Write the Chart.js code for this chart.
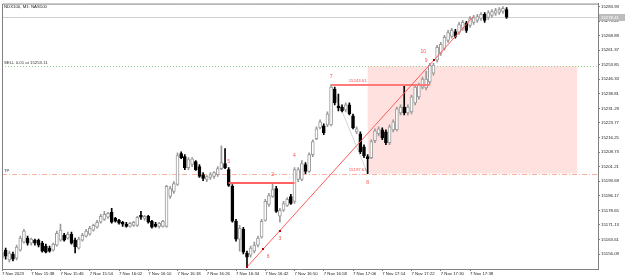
<!DOCTYPE html>
<html><head><meta charset="utf-8">
<script src="https://cdn.jsdelivr.net/npm/chart.js@4/dist/chart.umd.min.js"></script>
<style>html,body{margin:0;padding:0;background:#fff;}#wrap{width:625px;height:279px;position:relative;}</style>
</head><body><div id="wrap"><canvas id="c" width="625" height="279"></canvas></div>
<script>
// ---- data (NDX100 M1, 7 Nov 2023 from 15:30) ----
const open = [
15154.0,15158.1,15153.0,15156.1,15154.0,15158.1,15162.2,15164.3,15161.7,15163.3,
15163.3,15161.7,15160.2,15159.1,15158.1,15160.7,15163.3,15165.8,15164.3,15166.3,
15163.3,15159.1,15163.3,15165.3,15166.3,15168.4,15169.9,15172.5,15174.0,15175.1,
15177.6,15174.5,15173.5,15172.5,15171.5,15170.4,15170.9,15170.9,15176.1,15174.5,
15175.6,15173.0,15171.5,15170.4,15170.4,15170.4,15185.8,15188.4,15192.0,15207.9,
15206.4,15200.7,15202.3,15203.8,15201.2,15197.1,15194.6,15195.6,15196.1,15197.1,
15200.2,15202.8,15199.7,15191.0,15173.0,15163.8,15168.9,15156.6,15155.5,15157.6,
15160.7,15164.8,15173.5,15181.7,15185.8,15189.9,15175.6,15178.7,15181.2,15185.8,
15183.3,15194.6,15194.6,15202.3,15198.7,15207.4,15215.6,15221.2,15222.3,15222.8,
15222.8,15241.3,15232.5,15232.0,15230.5,15233.1,15227.4,15219.2,15218.2,15211.5,
15206.4,15205.9,15214.6,15218.2,15220.2,15219.2,15213.6,15220.2,15220.2,15229.0,
15232.0,15229.0,15229.5,15234.1,15237.2,15242.3,15241.8,15244.9,15249.5,15256.2,
15259.8,15262.3,15266.4,15268.5,15271.0,15270.5,15272.6,15275.2,15274.1,15275.7,
15276.7,15277.7,15279.8,15278.2,15279.3,15280.3,15280.8,15281.3,15282.3];
const high = [
15159.7,15159.1,15157.6,15157.1,15160.7,15165.3,15168.9,15165.3,15164.3,15163.8,
15163.8,15162.7,15161.2,15160.2,15161.7,15167.9,15171.5,15166.8,15167.4,15167.4,
15164.3,15164.8,15166.8,15168.9,15170.4,15171.5,15173.5,15176.6,15178.1,15177.6,
15179.7,15175.1,15174.0,15173.0,15172.5,15172.5,15173.0,15175.6,15178.1,15176.1,
15176.1,15173.5,15172.5,15172.5,15173.5,15191.5,15191.0,15193.5,15208.4,15208.9,
15207.4,15205.9,15205.9,15204.3,15202.3,15198.2,15196.6,15198.2,15198.7,15201.2,
15212.0,15210.5,15200.7,15192.0,15174.0,15170.9,15169.9,15157.6,15160.2,15162.2,
15165.3,15174.0,15184.3,15187.4,15192.5,15191.0,15179.7,15183.3,15185.3,15186.9,
15200.7,15200.7,15204.3,15203.3,15208.4,15215.1,15221.8,15225.4,15223.3,15229.5,
15243.61,15242.3,15238.7,15233.1,15234.1,15234.1,15228.4,15221.8,15219.2,15212.5,
15207.4,15215.1,15220.7,15221.8,15221.2,15220.2,15222.8,15225.4,15232.0,15233.1,
15242.8,15233.1,15238.2,15243.3,15244.4,15247.4,15250.5,15254.6,15254.6,15263.9,
15265.4,15269.0,15271.6,15272.6,15272.1,15275.7,15276.7,15276.2,15278.7,15279.3,
15279.8,15280.8,15280.8,15281.8,15282.3,15282.9,15283.4,15283.9,15283.4];
const low = [
15152.0,15153.5,15152.0,15152.5,15153.0,15157.6,15161.7,15160.7,15160.7,15160.7,
15159.7,15157.1,15156.6,15157.1,15157.6,15160.2,15162.7,15162.7,15163.8,15161.2,
15156.6,15158.6,15162.7,15164.8,15165.8,15167.9,15169.4,15172.0,15173.5,15174.5,
15172.0,15172.5,15171.5,15170.4,15169.9,15169.9,15170.4,15170.4,15174.0,15173.5,
15172.0,15169.4,15169.9,15169.4,15169.9,15169.9,15184.8,15187.4,15191.5,15205.3,
15199.7,15199.7,15201.2,15199.2,15195.6,15194.0,15193.5,15194.6,15195.1,15196.1,
15199.7,15200.2,15191.0,15172.5,15162.7,15157.6,15156.1,15149.4,15154.5,15156.6,
15159.7,15164.3,15173.0,15180.7,15185.3,15177.6,15172.5,15178.1,15180.7,15181.7,
15182.2,15193.5,15194.0,15197.6,15198.2,15206.4,15215.1,15220.7,15217.7,15221.8,
15222.3,15233.1,15230.0,15229.5,15229.5,15227.9,15220.7,15218.2,15207.9,15205.9,
15197.61,15205.3,15213.6,15217.1,15215.1,15212.5,15212.5,15219.2,15219.7,15227.9,
15227.9,15227.9,15228.4,15233.1,15236.1,15241.3,15240.8,15243.8,15248.5,15255.1,
15258.7,15261.3,15265.4,15267.5,15267.5,15269.5,15271.6,15270.5,15273.1,15274.6,
15275.7,15276.7,15275.7,15277.2,15278.2,15279.3,15279.8,15280.3,15277.7];
const close = [
15157.1,15155.0,15156.6,15153.5,15159.7,15164.3,15167.9,15161.7,15163.8,15161.7,
15160.7,15157.6,15157.1,15157.6,15161.2,15166.8,15168.4,15163.3,15166.3,15161.7,
15159.7,15163.8,15165.8,15167.9,15169.4,15170.9,15172.5,15175.6,15176.6,15177.1,
15172.5,15173.0,15172.0,15171.5,15170.4,15172.0,15172.5,15175.1,15175.1,15175.6,
15172.5,15169.9,15170.4,15172.0,15173.0,15191.0,15189.9,15192.5,15206.9,15205.9,
15200.7,15204.8,15205.3,15199.7,15196.1,15195.1,15196.1,15197.1,15198.2,15200.2,
15203.3,15200.7,15191.5,15173.0,15163.8,15169.4,15157.1,15154.5,15159.1,15160.7,
15164.3,15173.0,15183.3,15186.3,15189.4,15178.1,15178.7,15182.2,15184.3,15182.2,
15199.7,15199.7,15202.8,15198.7,15207.4,15214.1,15220.7,15224.3,15218.7,15228.4,
15242.3,15234.1,15231.5,15230.0,15233.1,15228.4,15221.2,15220.7,15208.9,15206.9,
15205.3,15214.1,15219.7,15220.7,15216.1,15213.6,15221.8,15224.3,15231.0,15232.0,
15229.0,15232.0,15237.2,15242.3,15243.3,15246.4,15246.4,15253.6,15253.6,15262.8,
15264.4,15268.0,15270.5,15271.6,15268.5,15274.6,15275.7,15271.6,15277.7,15278.2,
15278.7,15279.8,15276.7,15280.8,15281.3,15281.8,15282.3,15282.9,15278.41];

// one-minute slots from 15:30 (including empty chart-shift area)
const categories = [];
for (let m = 0; m < 164; m++) { const t = 930 + m; categories.push(String(Math.floor(t/60)).padStart(2,'0') + ':' + String(t%60).padStart(2,'0')); }
const tickIndex  = [0,8,16,24,32,40,48,56,64,72,80,88,96,104,112,120,128];
const tickLabels = ['7 Nov 2023','7 Nov 15:38','7 Nov 15:46','7 Nov 15:54','7 Nov 16:02','7 Nov 16:10','7 Nov 16:18','7 Nov 16:26','7 Nov 16:34','7 Nov 16:42','7 Nov 16:50','7 Nov 16:58','7 Nov 17:06','7 Nov 17:14','7 Nov 17:22','7 Nov 17:30','7 Nov 17:38'];
const yTicks = [15156.09,15163.61,15171.13,15178.65,15186.17,15193.69,15201.21,15208.73,15216.25,15223.77,15231.29,15238.81,15246.33,15253.85,15261.37,15268.89,15276.41,15283.93];
const yRange = [15148.36, 15285.41];

// trade / analysis objects
const titleText = 'NDX100, M1: NAS100';
const sellPrice = 15253.11, tpPrice = 15197.61, bidPrice = 15278.41;
const sellText = 'SELL 0.01 at 15253.11', tpText = 'TP';
const boxRange = [100, 157.3];
const levelLines = [[90, 117, 15243.61], [62, 80, 15193.0]];
const trendLine = [[67, 15149.4], [129, 15278.9]];
const zigzag = [[90, 15243.61], [100, 15197.61]];
const pivotDots = [[67, 15149.4], [71.4, 15158.6], [76, 15168.2], [118.2, 15256.4]];
const waveLabels = [['2',74,15197.1],['3',76,15164.3],['4',80,15206.9],['5',62,15203.8],['6',72.8,15155.0],['7',90,15247.9],['8',100,15193.0],['9',116,15256.2],['10',115.2,15260.8]];
const priceTags = [['15243.61',100,15243.61],['15197.61',100,15197.61]];

// ---- styling ----
const FONT = '"Liberation Sans", Arial, sans-serif';
const bull = close.map((c,i)=> c >= open[i]);
const BULL_LINE = '#9a9a9a';
const levelStyle = [{color: '#ff7a7a', h: 2}, {color: '#ff6262', h: 2}];

function strokeLine(ctx, x0, y0, x1, y1, color, dash) {
  ctx.save();
  ctx.lineWidth = 1;
  ctx.strokeStyle = color;
  ctx.setLineDash(dash || []);
  ctx.beginPath(); ctx.moveTo(x0, y0); ctx.lineTo(x1, y1); ctx.stroke();
  ctx.restore();
}

const annot = {
  id: 'annot',
  beforeDatasetsDraw(chart) {
    const {ctx, chartArea: a, scales: {x, y}} = chart;
    ctx.save();
    const bx0 = x.getPixelForValue(boxRange[0]), bx1 = x.getPixelForValue(boxRange[1]);
    const by0 = y.getPixelForValue(sellPrice), by1 = y.getPixelForValue(tpPrice);
    ctx.fillStyle = '#ffe1df';
    ctx.fillRect(bx0, by0, bx1 - bx0, by1 - by0);
    let yy = Math.round(y.getPixelForValue(bidPrice)) + 0.5;
    strokeLine(ctx, a.left, yy, a.right, yy, '#d2d2d2');
    strokeLine(ctx, a.left, Math.round(by0) + 0.5, a.right, Math.round(by0) + 0.5, '#8fcf8f', [1, 2]);
    strokeLine(ctx, a.left, Math.round(by1) + 0.5, a.right, Math.round(by1) + 0.5, '#f6b39f', [5, 2, 1, 2]);
    strokeLine(ctx, x.getPixelForValue(zigzag[0][0]), y.getPixelForValue(zigzag[0][1]),
               x.getPixelForValue(zigzag[1][0]), y.getPixelForValue(zigzag[1][1]), 'rgba(160,160,160,0.45)');
    ctx.fillStyle = '#333'; ctx.font = '4.3px ' + FONT; ctx.textBaseline = 'bottom'; ctx.textAlign = 'left';
    ctx.fillText(sellText, a.left + 2, Math.round(by0) - 1);
    ctx.fillText(tpText, a.left + 2, Math.round(by1) - 1);
    ctx.restore();
  },
  afterDatasetsDraw(chart) {
    const {ctx, chartArea: a, scales: {x, y}} = chart;
    const px = i => x.getPixelForValue(i), py = p => y.getPixelForValue(p);
    ctx.save();
    ctx.beginPath(); ctx.rect(a.left, a.top, a.right - a.left, a.bottom - a.top); ctx.clip();
    ctx.beginPath();
    levelLines.forEach(([i0, i1, p], k) => {
      ctx.fillStyle = levelStyle[k].color;
      ctx.fillRect(px(i0), Math.round(py(p)) - (levelStyle[k].h - 1), px(i1) - px(i0), levelStyle[k].h);
    });
    strokeLine(ctx, px(trendLine[0][0]), py(trendLine[0][1]), px(trendLine[1][0]), py(trendLine[1][1]), '#ff5a5a');
    ctx.fillStyle = '#b00000';
    pivotDots.forEach(([i, p]) => { ctx.fillRect(Math.round(px(i)) - 1, Math.round(py(p)) - 1, 2, 2); });
    ctx.fillStyle = '#ff5050'; ctx.font = '5px ' + FONT; ctx.textAlign = 'center'; ctx.textBaseline = 'middle';
    waveLabels.forEach(([t, i, p]) => ctx.fillText(t, px(i), py(p)));
    ctx.font = '4.3px ' + FONT; ctx.textAlign = 'right'; ctx.textBaseline = 'bottom';
    priceTags.forEach(([t, i, p]) => ctx.fillText(t, px(i) - 1, Math.round(py(p)) - 2));
    ctx.restore();
  },
  afterDraw(chart) {
    const {ctx, chartArea: a, scales: {y}} = chart;
    ctx.save();
    ctx.strokeStyle = '#808080'; ctx.lineWidth = 1;
    ctx.beginPath(); ctx.moveTo(a.left + 0.5, a.bottom); ctx.lineTo(a.left + 0.5, a.top + 0.5); ctx.lineTo(a.right, a.top + 0.5); ctx.stroke();
    const yy = y.getPixelForValue(bidPrice);
    ctx.fillStyle = '#bdbdbd';
    ctx.fillRect(a.right + 1, Math.round(yy) - 3, 26, 7);
    ctx.fillStyle = '#ffffff'; ctx.font = '4.3px ' + FONT; ctx.textAlign = 'left'; ctx.textBaseline = 'middle';
    ctx.fillText(bidPrice.toFixed(2), a.right + 3, Math.round(yy) + 0.5);
    ctx.fillStyle = '#222';
    ctx.fillText(titleText, a.left + 2, a.top + 3.5);
    ctx.restore();
  }
};

new Chart(document.getElementById('c'), {
  type: 'bar',
  data: {
    labels: categories,
    datasets: [
      {
        label: 'body',
        data: open.map((o, i) => [Math.min(o, close[i]), Math.max(o, close[i])]),
        backgroundColor: bull.map(b => b ? '#ffffff' : '#000000'),
        borderColor: bull.map(b => b ? BULL_LINE : '#000000'),
        borderWidth: 1, borderSkipped: false, barThickness: 3, grouped: false
      },
      {
        label: 'wick',
        data: low.map((l, i) => [l, high[i]]),
        backgroundColor: bull.map(b => b ? BULL_LINE : '#000000'),
        borderWidth: 0, barThickness: 1, grouped: false
      }
    ]
  },
  options: {
    responsive: false, animation: false, devicePixelRatio: 1,
    layout: {padding: {left: 2, top: 2, right: 0, bottom: 0}},
    plugins: {legend: {display: false}, tooltip: {enabled: false}},
    scales: {
      x: {
        type: 'category', offset: false,
        afterBuildTicks: s => { s.ticks = tickIndex.map(v => ({value: v})); },
        afterFit: s => { s.height = 10; },
        ticks: {autoSkip: false, maxRotation: 0, minRotation: 0, align: 'start', padding: 0.5,
                color: '#222', font: {size: 4.3, family: FONT},
                callback: (v, i) => tickLabels[i]},
        grid: {display: true, drawOnChartArea: false, drawTicks: true, tickLength: 2, color: '#808080', offset: false},
        border: {display: true, color: '#808080'}
      },
      y: {
        type: 'linear', position: 'right', min: yRange[0], max: yRange[1],
        afterBuildTicks: s => { s.ticks = yTicks.map(v => ({value: v})); },
        afterFit: s => { s.width = 27; },
        ticks: {padding: 1, color: '#222', font: {size: 4.3, family: FONT}, callback: v => v.toFixed(2)},
        grid: {display: true, drawOnChartArea: false, drawTicks: true, tickLength: 2, color: '#808080'},
        border: {display: true, color: '#808080'}
      }
    }
  },
  plugins: [annot]
});
</script>
</body></html>
